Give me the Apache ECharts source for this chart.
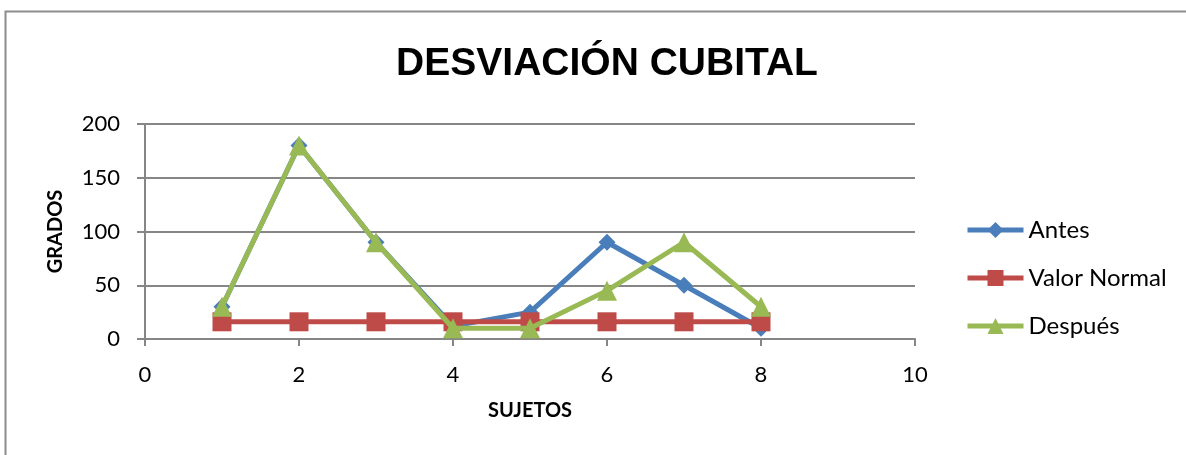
<!DOCTYPE html>
<html>
<head>
<meta charset="utf-8">
<script src="https://cdn.jsdelivr.net/npm/echarts@6/dist/echarts.min.js"></script>
<style>
  html, body { margin: 0; padding: 0; background: #fff; }
  #chart { width: 1186px; height: 455px; }
</style>
</head>
<body>
<div id="chart"></div>
<script>
// sujetos 1..8
const sujetos = [1, 2, 3, 4, 5, 6, 7, 8];
const antes = [30, 180, 90, 12, 25, 90, 50, 10];
const valorNormal = [16, 16, 16, 16, 16, 16, 16, 16];
const despues = [30, 180, 90, 10, 10, 45, 90, 30];

const pairs = (ys) => sujetos.map((x, i) => [x, ys[i]]);

const myChart = echarts.init(document.getElementById("chart"));
myChart.setOption({
  animation: false,
  backgroundColor: "#fff",
  textStyle: { fontFamily: "Lato, Open Sans, sans-serif" },
  title: {
    text: "DESVIACIÓN CUBITAL",
    left: 602,
    textAlign: "center",
    top: 40,
    textStyle: { fontSize: 39, fontWeight: "bold", color: "#000", fontFamily: "Liberation Sans, sans-serif" },
  },
  graphic: [
    {
      type: "rect",
      shape: { x: 5.5, y: 11.5, width: 1300, height: 600 },
      style: { fill: "none", stroke: "#8c8c8c", lineWidth: 2 },
      silent: true,
    },
  ],
  grid: { left: 145, right: 271, top: 124, bottom: 116 },
  xAxis: {
    type: "value",
    min: 0,
    max: 10,
    interval: 2,
    name: "SUJETOS",
    nameLocation: "middle",
    nameGap: 62,
    nameTextStyle: { fontSize: 20, fontWeight: "bold", color: "#000" },
    axisLine: { lineStyle: { color: "#868686", width: 2 } },
    axisTick: { show: true, length: 7, lineStyle: { color: "#868686", width: 2 } },
    axisLabel: { fontSize: 22, color: "#000", margin: 25 },
    splitLine: { show: false },
  },
  yAxis: {
    type: "value",
    min: 0,
    max: 200,
    interval: 50,
    name: "GRADOS",
    nameLocation: "middle",
    nameGap: 79,
    nameRotate: 90,
    nameTextStyle: { fontSize: 20, fontWeight: "bold", color: "#000" },
    axisLine: { show: true, lineStyle: { color: "#868686", width: 2 } },
    axisTick: { show: true, length: 8, lineStyle: { color: "#868686", width: 2 } },
    axisLabel: { fontSize: 22, color: "#000", margin: 25 },
    splitLine: { show: true, lineStyle: { color: "#868686", width: 2 } },
  },
  legend: {
    orient: "vertical",
    left: 960,
    top: 213,
    itemWidth: 56,
    itemHeight: 20,
    itemGap: 24,
    lineStyle: { width: 5 },
    textStyle: { fontSize: 24, color: "#000", lineHeight: 20 },
    data: ["Antes", "Valor Normal", "Después"],
  },
  series: [
    {
      name: "Antes",
      type: "line",
      data: pairs(antes),
      color: "#4A7EBB",
      symbol: "diamond",
      symbolSize: 17,
      lineStyle: { width: 5 },
      z: 2,
    },
    {
      name: "Valor Normal",
      type: "line",
      data: pairs(valorNormal),
      color: "#BE4B48",
      symbol: "rect",
      symbolSize: 19,
      lineStyle: { width: 5 },
      z: 3,
    },
    {
      name: "Después",
      type: "line",
      data: pairs(despues),
      color: "#98B954",
      symbol: "triangle",
      symbolSize: 20,
      lineStyle: { width: 5 },
      z: 4,
    },
  ],
});
</script>
</body>
</html>
